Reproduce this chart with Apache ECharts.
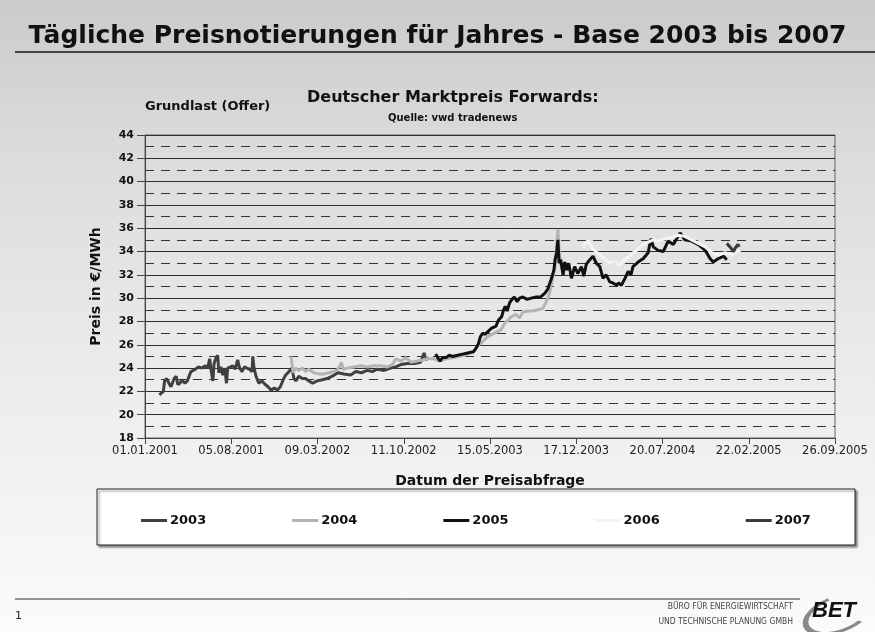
<!DOCTYPE html>
<html>
<head>
<meta charset="utf-8">
<script src="https://cdn.jsdelivr.net/npm/echarts@6/dist/echarts.min.js"></script>
<style>
  html, body { margin: 0; padding: 0; }
  body { width: 875px; height: 632px; background: linear-gradient(to bottom, #cbcbcb 0%, #dcdcdc 25%, #ececec 60%, #fbfbfb 100%); }
  #chartLineBox { width: 875px; height: 632px; }
</style>
</head>
<body>
<div id="chartLineBox"></div>
<script>
// x tick labels (one every 216 days, counted from 01.01.2001)
var xTickLabels = ["01.01.2001", "05.08.2001", "09.03.2002", "11.10.2002", "15.05.2003",
  "17.12.2003", "20.07.2004", "22.02.2005", "26.09.2005"];
var yearNames = ["2003", "2004", "2005", "2006", "2007"];

// [days since 01.01.2001, price in €/MWh]
var base2003 = [[36,21.7],[46,22.0],[49,22.9],[54,23.1],[60,22.7],[65,22.4],[73,23.1],[78,23.3],[82,22.6],[88,22.7],
  [92,23.0],[100,22.7],[106,22.9],[111,22.9],[115,23.7],[126,23.9],[134,24.1],[142,24.0],[151,24.2],[157,24.0],
  [162,24.8],[166,23.7],[170,22.9],[173,24.4],[178,24.9],[182,25.1],[185,23.6],[190,24.1],[195,23.4],[200,24.0],
  [204,22.7],[207,24.0],[214,24.1],[220,24.2],[226,23.9],[232,24.7],[237,24.0],[243,23.7],[249,24.1],[255,24.0],
  [262,23.9],[268,23.7],[270,25.0],[273,24.0],[278,23.3],[285,22.7],[293,22.9],[301,22.6],[308,22.4],[316,22.1],
  [324,22.3],[331,22.1],[339,22.4],[346,23.0],[352,23.4],[358,23.6],[363,23.8],[368,24.0],[373,23.1],[378,22.9],
  [385,23.3],[394,23.1],[402,23.1],[410,22.9],[420,22.7],[431,22.9],[444,23.0],[456,23.1],[469,23.3],[483,23.6],
  [498,23.5],[515,23.4],[528,23.7],[542,23.6],[557,23.8],[569,23.7],[582,23.9],[599,23.8],[615,24.0],[628,24.1],
  [641,24.3],[657,24.4],[674,24.4],[690,24.5],[699,25.3],[703,24.7],[710,24.9]];
var base2004 = [[366,25.0],[368,24.4],[371,23.6],[377,24.0],[385,23.8],[394,24.0],[402,23.7],[410,23.9],[423,23.6],
  [435,23.5],[448,23.5],[461,23.6],[473,23.7],[483,23.9],[488,24.2],[492,24.5],[496,23.9],[507,24.0],[523,24.1],
  [540,24.2],[557,24.1],[574,24.2],[590,24.2],[607,24.1],[620,24.3],[628,24.8],[641,24.6],[653,24.9],[666,24.5],
  [682,24.6],[695,24.7],[707,24.8],[724,24.8],[737,24.6],[754,24.8],[774,24.9],[800,25.1],[821,25.4],[833,25.9],
  [846,26.3],[858,26.7],[875,27.0],[892,27.3],[902,27.9],[909,28.1],[917,28.4],[929,28.6],[938,28.3],[946,28.8],
  [959,28.9],[971,28.9],[984,29.0],[996,29.1],[1005,29.7],[1013,30.4],[1022,31.9],[1027,32.7],[1032,35.0],
  [1034,35.9],[1037,34.1],[1042,32.7],[1047,32.3],[1049,32.0]];
var base2005 = [[728,25.2],[733,24.9],[739,24.6],[745,24.9],[754,24.9],[762,25.1],[770,25.0],[783,25.1],[795,25.2],
  [808,25.3],[823,25.4],[829,25.7],[835,26.1],[840,26.7],[846,27.0],[852,26.9],[858,27.1],[867,27.4],[879,27.6],
  [885,28.1],[893,28.4],[898,29.0],[902,29.3],[907,28.9],[913,29.6],[919,29.9],[925,30.1],[932,29.7],[938,30.0],
  [946,30.1],[957,29.9],[967,30.0],[980,30.1],[991,30.1],[1001,30.4],[1009,30.8],[1017,31.6],[1024,32.4],
  [1027,33.3],[1031,33.9],[1034,35.0],[1037,33.0],[1041,33.3],[1047,32.0],[1051,33.1],[1056,32.4],[1061,33.0],
  [1068,31.7],[1076,32.7],[1084,32.1],[1093,32.7],[1099,31.9],[1105,32.9],[1114,33.3],[1122,33.6],[1130,33.0],
  [1139,32.7],[1147,31.7],[1155,32.0],[1164,31.4],[1172,31.3],[1181,31.1],[1186,31.3],[1193,31.1],[1202,31.7],
  [1210,32.3],[1217,32.0],[1222,32.7],[1235,33.1],[1248,33.4],[1260,33.9],[1267,35.1],[1273,34.4],[1285,34.1],
  [1298,34.0],[1310,34.9],[1323,34.6],[1340,35.6],[1352,35.0],[1369,34.9],[1386,34.6],[1403,34.1],[1415,33.4],
  [1423,33.1],[1436,33.4],[1449,33.6],[1457,33.3]];
var base2006 = [[1098,34.3],[1101,34.7],[1110,34.9],[1118,34.4],[1126,34.1],[1139,33.7],[1151,33.4],[1164,33.0],
  [1177,33.1],[1189,32.8],[1197,33.2],[1210,33.5],[1223,33.9],[1235,34.2],[1248,34.6],[1260,34.8],[1273,35.0],
  [1285,34.9],[1302,35.1],[1319,35.2],[1336,35.4],[1352,35.3],[1369,35.0],[1386,34.7],[1403,34.4],[1419,33.9],
  [1436,33.7],[1453,33.9],[1470,33.7],[1482,34.0],[1491,34.1]];
var base2007 = [[1457,34.7],[1465,34.4],[1474,34.0],[1478,34.3],[1485,34.6],[1488,34.4]];

var lineColors = ["#404040", "#b3b3b3", "#111111", "#f4f4f4", "#3c3c3c"];
var seriesData = [base2003, base2004, base2005, base2006, base2007];

var font = "'DejaVu Sans', 'Liberation Sans', sans-serif";
var chartLine = echarts.init(document.getElementById("chartLineBox"));

var series = yearNames.map(function (name, i) {
  return {
    name: name,
    type: "line",
    data: seriesData[i],
    symbol: "none",
    color: lineColors[i],
    lineStyle: { color: lineColors[i], width: 3 },
    z: 3 + i
  };
});

var option = {
  backgroundColor: "transparent",
  animation: false,
  textStyle: { fontFamily: font },
  title: [
    {
      text: "Tägliche Preisnotierungen für Jahres - Base 2003 bis 2007",
      left: "center", top: 19,
      textStyle: { fontSize: 25, fontWeight: "bold", color: "#111", fontFamily: font }
    },
    {
      text: "Deutscher Marktpreis Forwards:",
      left: 302, top: 85,
      textStyle: { fontSize: 16, fontWeight: "bold", color: "#111", fontFamily: font }
    },
    {
      text: "Quelle: vwd tradenews",
      left: 383, top: 108,
      textStyle: { fontSize: 10, fontWeight: "bold", color: "#111", fontFamily: font }
    },
    {
      text: "Grundlast (Offer)",
      left: 140, top: 95,
      textStyle: { fontSize: 13, fontWeight: "bold", color: "#111", fontFamily: font }
    }
  ],
  grid: {
    left: 145, right: 40, top: 135, bottom: 194,
    show: true, borderColor: "#666", borderWidth: 1, backgroundColor: "transparent"
  },
  legend: {
    data: yearNames,
    left: 136, top: 509,
    icon: "rect",
    itemWidth: 26, itemHeight: 3, itemGap: 86,
    textStyle: { fontSize: 13, fontWeight: "bold", color: "#111", padding: [0, 0, 0, -2] }
  },
  xAxis: {
    type: "value",
    min: 0, max: 1728, interval: 216,
    name: "Datum der Preisabfrage",
    nameLocation: "middle", nameGap: 36,
    nameTextStyle: { fontSize: 14, fontWeight: "bold", color: "#111" },
    splitLine: { show: false },
    axisLine: { lineStyle: { color: "#444" } },
    axisTick: { show: true, length: 6, lineStyle: { color: "#444" } },
    axisLabel: {
      fontSize: 11.5, color: "#222", margin: 7,
      formatter: function (v) { return xTickLabels[Math.round(v / 216)]; }
    }
  },
  yAxis: {
    type: "value",
    min: 18, max: 44, interval: 2,
    name: "Preis in €/MWh",
    nameLocation: "middle", nameGap: 42,
    nameTextStyle: { fontSize: 14, fontWeight: "bold", color: "#111" },
    axisLine: { show: true, lineStyle: { color: "#444" } },
    axisTick: { show: true, length: 8, lineStyle: { color: "#444" } },
    axisLabel: { fontSize: 11, fontWeight: "bold", color: "#111", margin: 11 },
    splitLine: { show: true, lineStyle: { color: "#2e2e2e", width: 1 } },
    minorTick: { show: false, splitNumber: 2 },
    minorSplitLine: { show: true, lineStyle: { color: "#333", width: 1, type: [9, 7] } }
  },
  graphic: [
    // title underline
    { type: "line", shape: { x1: 15, y1: 52, x2: 875, y2: 52 }, style: { stroke: "#444", lineWidth: 2 } },
    // legend frame
    {
      type: "rect", shape: { x: 97, y: 489, width: 758, height: 56 }, z: 0,
      style: { fill: "#fff", stroke: "#222", lineWidth: 1, shadowColor: "rgba(0,0,0,0.45)", shadowOffsetX: 2, shadowOffsetY: 2, shadowBlur: 2 }
    },
    // footer
    { type: "line", shape: { x1: 15, y1: 599, x2: 800, y2: 599 }, style: { stroke: "#333", lineWidth: 1 } },
    { type: "text", left: 15, top: 611, style: { text: "1", fontSize: 11, fill: "#222", fontFamily: font } },
    {
      type: "text", right: 82, top: 602,
      style: { text: "BÜRO FÜR ENERGIEWIRTSCHAFT", fontSize: 8.5, fill: "#444", fontFamily: "'Liberation Sans Narrow', 'DejaVu Sans Condensed', sans-serif" }
    },
    {
      type: "text", right: 82, top: 617,
      style: { text: "UND TECHNISCHE PLANUNG GMBH", fontSize: 8.5, fill: "#444", fontFamily: "'Liberation Sans Narrow', 'DejaVu Sans Condensed', sans-serif" }
    },
    // BET logo
    {
      type: "arc", x: 838, y: 614, scaleY: 0.5, rotation: 0.35,
      shape: { cx: 0, cy: 0, r: 34, startAngle: 1.0, endAngle: 4.6 },
      style: { stroke: "#8a8a8a", lineWidth: 6, fill: null }
    },
    {
      type: "text", left: 812, top: 600,
      style: { text: "BET", fontSize: 22, fontWeight: "bold", fontStyle: "italic", fill: "#111", fontFamily: "'Liberation Sans', sans-serif" }
    }
  ],
  series: series
};

chartLine.setOption(option);
</script>
</body>
</html>
